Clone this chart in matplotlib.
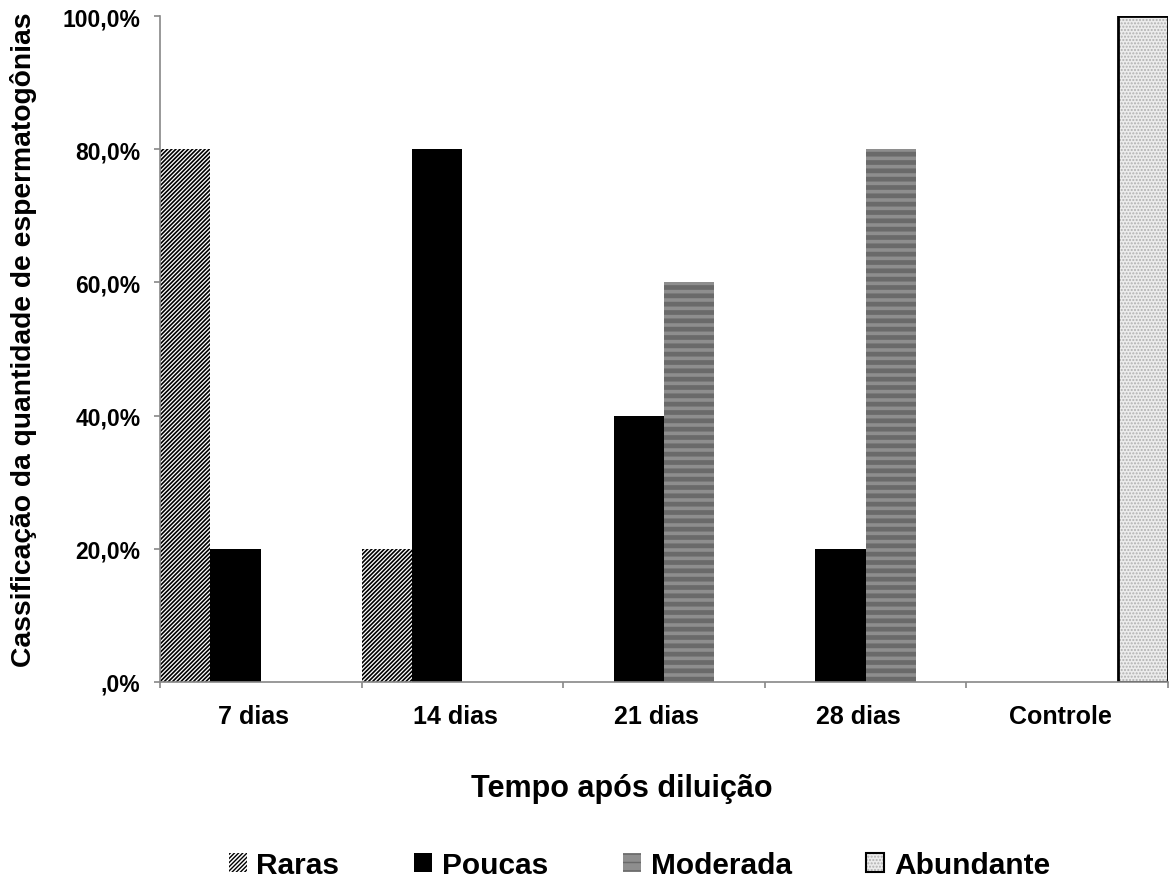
import numpy as np
import matplotlib as mpl
import matplotlib.pyplot as plt
from matplotlib.patches import Patch

plt.rcParams['font.family'] = ['Liberation Sans', 'DejaVu Sans']
plt.rcParams['font.weight'] = 'bold'

grupos = ['7 dias', '14 dias', '21 dias', '28 dias', 'Controle']
series = ['Raras', 'Poucas', 'Moderada', 'Abundante']
raras = [80, 20, 0, 0, 0]
poucas = [20, 80, 40, 20, 0]
moderada = [0, 0, 60, 80, 0]
abundante = [0, 0, 0, 0, 100]
y_ticks = [0, 20, 40, 60, 80, 100]
y_labels = [',0%', '20,0%', '40,0%', '60,0%', '80,0%', '100,0%']

estilos = [
    dict(facecolor='white', edgecolor='black', hatch='////////', linewidth=0),
    dict(facecolor='black', edgecolor='black', linewidth=0),
    dict(facecolor='#8e8e8e', edgecolor='#6a6a6a', hatch='--', linewidth=0),
    dict(facecolor='#ececec', edgecolor='#b0b0b0', hatch='.....', linewidth=0),
]
espessura_hachura = [1.2, 1.0, 3.4, 1.0]

fig = plt.figure(figsize=(11.71, 8.87), dpi=100)
ax = fig.add_axes([0.1366, 0.2300, 0.8608, 0.7508])

x = np.arange(len(grupos))
w = 0.25
for k, vals in enumerate([raras, poucas, moderada, abundante]):
    vals = np.array(vals)
    m = vals > 0
    with mpl.rc_context({'hatch.linewidth': espessura_hachura[k]}):
        ax.bar(x[m] + k * w, vals[m], width=w, align='edge', **estilos[k])
# contorno preto das barras "Abundante"
ab = np.array(abundante)
ax.bar(x[ab > 0] + 3 * w, ab[ab > 0], width=w, align='edge', fill=False,
       edgecolor='black', linewidth=2)

ax.set_xlim(0, len(grupos))
ax.set_ylim(0, 100)
ax.set_yticks(y_ticks)
ax.set_yticklabels(y_labels, fontsize=16.5, fontweight='bold')
# ticks maiores nas divisas dos grupos, rótulos um pouco à esquerda do centro
ax.set_xticks(np.arange(len(grupos) + 1))
ax.set_xticklabels([])
ax.set_xticks(x + 0.465, minor=True)
ax.set_xticklabels(grupos, minor=True, fontsize=18, fontweight='bold')
ax.tick_params(axis='x', which='minor', length=0, pad=16)
ax.tick_params(axis='both', which='major', length=4, color='#888888', width=1.2)
ax.tick_params(axis='y', pad=10)

for s in ['top', 'right']:
    ax.spines[s].set_visible(False)
for s in ['left', 'bottom']:
    ax.spines[s].set_color('#888888')
    ax.spines[s].set_linewidth(1.2)

ax.set_ylabel('Cassificação da quantidade de espermatogônias', fontsize=20.3,
              fontweight='bold')
ax.yaxis.set_label_coords((37 - 160) / 1008, 0.516)
ax.set_xlabel('Tempo após diluição', fontsize=22, fontweight='bold')
ax.xaxis.set_label_coords((622 - 160) / 1008, (683 - 774) / 666)

handles = [
    Patch(**estilos[0]),
    Patch(**estilos[1]),
    Patch(**estilos[2]),
    (Patch(**estilos[3]), Patch(fill=False, edgecolor='black', linewidth=1.5)),
]
fig.legend(handles, series, loc='center', bbox_to_anchor=(0.546, 1 - 866 / 887),
           ncol=4, frameon=False, handlelength=0.6,
           handleheight=0.6, handletextpad=0.33, columnspacing=2.5,
           prop={'weight': 'bold', 'size': 21.5})

fig.savefig('out.png', dpi=100)
